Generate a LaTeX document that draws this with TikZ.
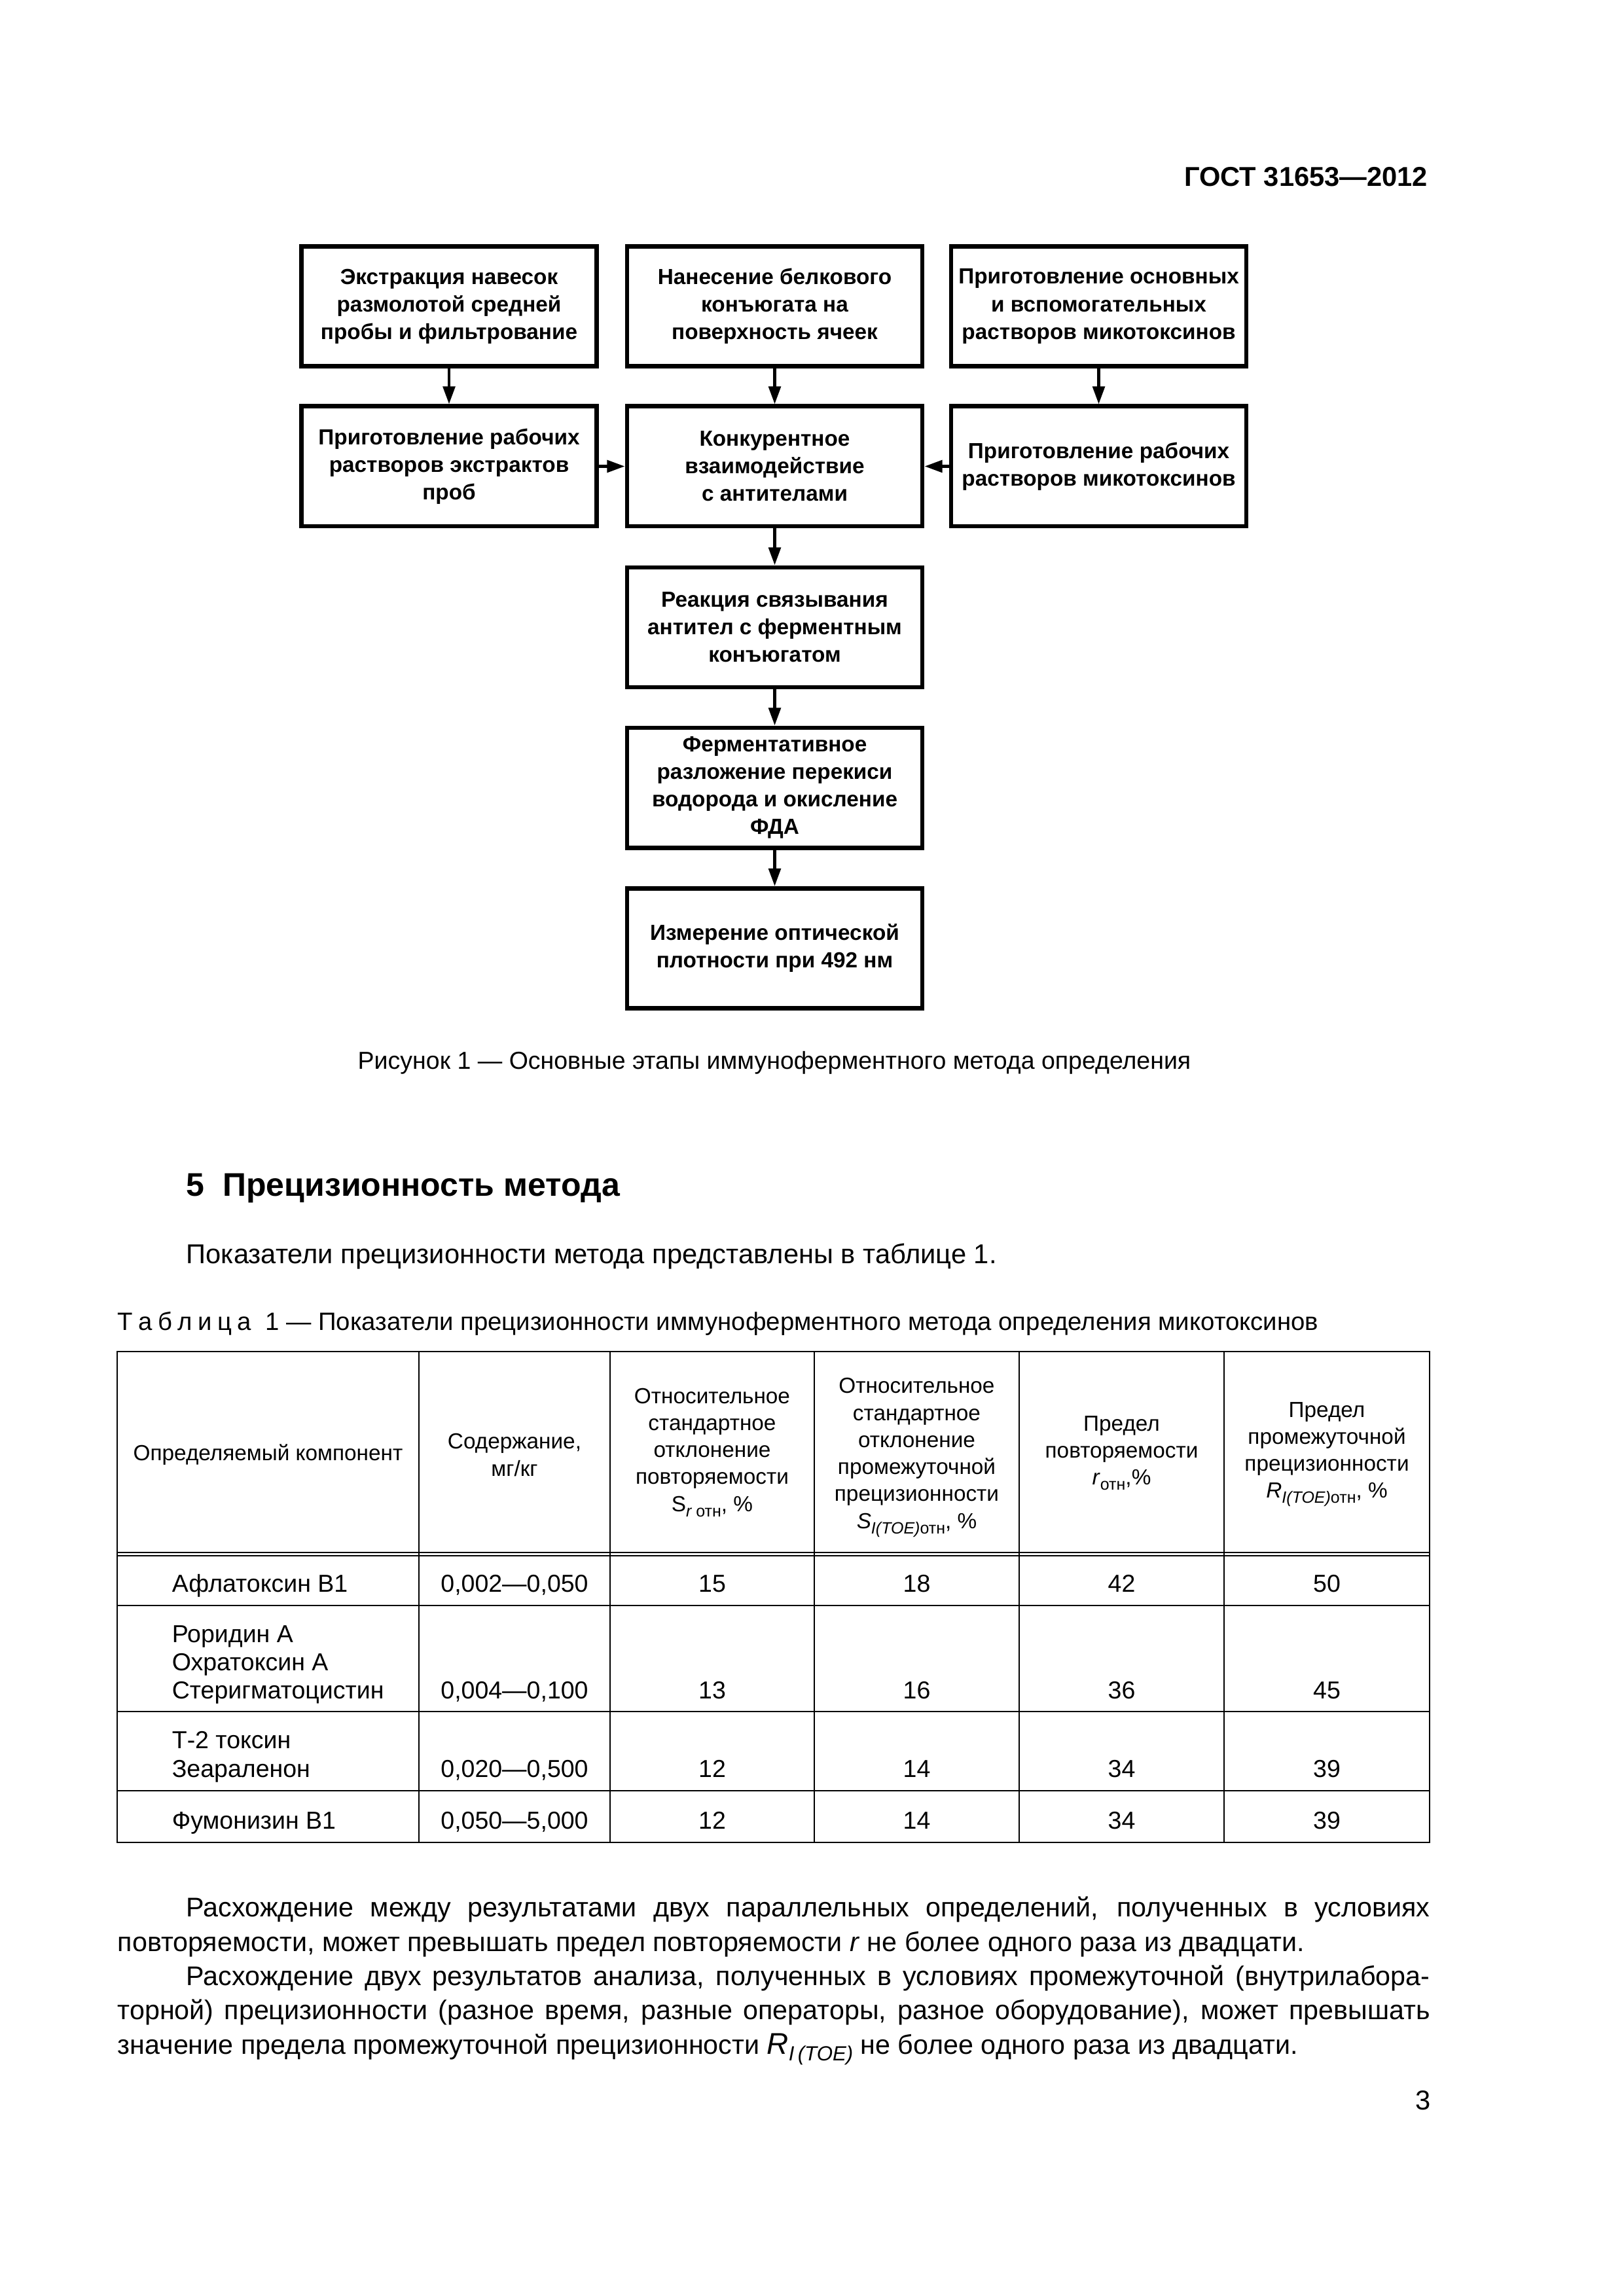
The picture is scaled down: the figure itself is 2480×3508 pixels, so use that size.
\documentclass[tikz,border=0pt]{standalone}
\usepackage{fontspec}
\setmainfont{Liberation Sans}
\usetikzlibrary{arrows.meta}
\newcommand\lsub[1]{\raisebox{-0.45ex}{\fontsize{6}{6}\selectfont #1}}
\newcommand\bsub[1]{\raisebox{-0.5ex}{\fontsize{7.5}{7.5}\selectfont #1}}
\newcommand\lsp{\hspace{0.22em}}
\begin{document}
\begin{tikzpicture}[x=0.24pt,y=-0.24pt]
\tikzset{
  fbox/.style={draw, line width=1.6pt, minimum width=108.3pt, minimum height=44pt,
    inner sep=0pt, align=center, font=\fontsize{8}{10.1}\selectfont\bfseries},
  farrow/.style={line width=1.1pt, -{Triangle[length=6.5pt,width=4.4pt]}},
  tline/.style={line width=0.5pt},
  th/.style={align=center, inner sep=0pt, font=\fontsize{8}{9.9}\selectfont},
  td/.style={inner sep=0pt, font=\fontsize{9}{10.3}\selectfont},
  body/.style={inner sep=0pt, font=\fontsize{10}{12.5}\selectfont},
  para/.style={inner sep=0pt, font=\fontsize{9.9}{12.5}\selectfont},
}
\useasboundingbox[fill=white] (0,0) rectangle (2480,3508);

% header
\node[anchor=base east, inner sep=0pt, font=\fontsize{10}{12}\selectfont\bfseries] (gost) at (2182,285) {ГОСТ 31653—2012};

% flowchart
\node[fbox] (b1) at (686,468) {Экстракция навесок\\размолотой средней\\пробы и фильтрование};
\node[fbox] (b2) at (1183.5,468) {Нанесение белкового\\конъюгата на\\поверхность ячеек};
\node[fbox] (b3) at (1678.5,468) {Приготовление основных\\и вспомогательных\\растворов микотоксинов};
\node[fbox] (b4) at (686,712.5) {Приготовление рабочих\\растворов экстрактов\\проб};
\node[fbox] (b5) at (1183.5,712.5) {Конкурентное\\взаимодействие\\с антителами};
\node[fbox] (b6) at (1678.5,712.5) {Приготовление рабочих\\растворов микотоксинов};
\node[fbox] (b7) at (1183.5,958.5) {Реакция связывания\\антител с ферментным\\конъюгатом};
\node[fbox] (b8) at (1183.5,1203.5) {Ферментативное\\разложение перекиси\\водорода и окисление\\ФДА};
\node[fbox] (b9) at (1183.5,1449) {Измерение оптической\\плотности при 492 нм};

\draw[farrow] (b1) -- (b4);
\draw[farrow] (b2) -- (b5);
\draw[farrow] (b3) -- (b6);
\draw[farrow] (b4) -- (b5);
\draw[farrow] (b6) -- (b5);
\draw[farrow] (b5) -- (b7);
\draw[farrow] (b7) -- (b8);
\draw[farrow] (b8) -- (b9);

\node[anchor=base, inner sep=0pt, font=\fontsize{9}{11}\selectfont] (cap) at (1183,1633) {Рисунок 1 — Основные этапы иммуноферментного метода определения};

% section
\node[anchor=base west, inner sep=0pt, font=\fontsize{12}{14}\selectfont\bfseries] (sec) at (284,1827) {5\ \ Прецизионность метода};
\node[body, anchor=base west] (intro) at (284,1930) {Показатели прецизионности метода представлены в таблице 1.};
\node[anchor=base west, inner sep=0pt, font=\fontsize{9.2}{11}\selectfont] (tcap) at (179,2032) {Т\lsp а\lsp б\lsp л\lsp и\lsp ц\lsp а\ \ 1 — Показатели прецизионности иммуноферментного метода определения микотоксинов};

% table grid
\draw[tline] (179,2065) rectangle (2184,2815);
\foreach \cx in {640,932,1244,1557,1870} \draw[tline] (\cx,2065) -- (\cx,2815);
\foreach \ry in {2372,2377,2453,2615,2736} \draw[tline] (179,\ry) -- (2184,\ry);

% table header
\node[th] (h1) at (409.5,2223) {Определяемый компонент};
\node[th] (h2) at (786,2223) {Содержание,\\мг/кг};
\node[th] (h3) at (1088,2219) {Относительное\\стандартное\\отклонение\\повторяемости\\S\lsub{\itshape r\upshape\ отн}, \%};
\node[th] (h4) at (1400.5,2227) {Относительное\\стандартное\\отклонение\\промежуточной\\прецизионности\\\textit{S}\lsub{\itshape I(TOE)\upshape отн}, \%};
\node[th] (h5) at (1713.5,2220) {Предел\\повторяемости\\\textit{r}\lsub{отн},\%};
\node[th] (h6) at (2027,2222) {Предел\\промежуточной\\прецизионности\\\textit{R}\lsub{\itshape I(TOE)\upshape отн}, \%};

% table body
\node[td, anchor=base west] (r1a) at (262,2432) {Афлатоксин В1};
\node[td, anchor=base] (r1b) at (786,2432) {0,002—0,050};
\node[td, anchor=base] (r1c) at (1088,2432) {15};
\node[td, anchor=base] (r1d) at (1400.5,2432) {18};
\node[td, anchor=base] (r1e) at (1713.5,2432) {42};
\node[td, anchor=base] (r1f) at (2027,2432) {50};

\node[td, anchor=base west] (r2a1) at (262,2509) {Роридин А};
\node[td, anchor=base west] (r2a2) at (262,2552) {Охратоксин А};
\node[td, anchor=base west] (r2a3) at (262,2595) {Стеригматоцистин};
\node[td, anchor=base] (r2b) at (786,2595) {0,004—0,100};
\node[td, anchor=base] (r2c) at (1088,2595) {13};
\node[td, anchor=base] (r2d) at (1400.5,2595) {16};
\node[td, anchor=base] (r2e) at (1713.5,2595) {36};
\node[td, anchor=base] (r2f) at (2027,2595) {45};

\node[td, anchor=base west] (r3a1) at (262,2671) {Т-2 токсин};
\node[td, anchor=base west] (r3a2) at (262,2715) {Зеараленон};
\node[td, anchor=base] (r3b) at (786,2715) {0,020—0,500};
\node[td, anchor=base] (r3c) at (1088,2715) {12};
\node[td, anchor=base] (r3d) at (1400.5,2715) {14};
\node[td, anchor=base] (r3e) at (1713.5,2715) {34};
\node[td, anchor=base] (r3f) at (2027,2715) {39};

\node[td, anchor=base west] (r4a) at (262,2794) {Фумонизин В1};
\node[td, anchor=base] (r4b) at (786,2794) {0,050—5,000};
\node[td, anchor=base] (r4c) at (1088,2794) {12};
\node[td, anchor=base] (r4d) at (1400.5,2794) {14};
\node[td, anchor=base] (r4e) at (1713.5,2794) {34};
\node[td, anchor=base] (r4f) at (2027,2794) {39};

% paragraphs
\node[para, anchor=base west] (p1a) at (284,2928) {\makebox[456pt][s]{Расхождение между результатами двух параллельных определений, полученных в условиях}};
\node[para, anchor=base west] (p1b) at (179,2981) {повторяемости, может превышать предел повторяемости \textit{r} не более одного раза из двадцати.};
\node[para, anchor=base west] (p2a) at (284,3033) {\makebox[456pt][s]{Расхождение двух результатов анализа, полученных в условиях промежуточной (внутрилабора-}};
\node[para, anchor=base west] (p2b) at (179,3085) {\makebox[481.2pt][s]{торной) прецизионности (разное время, разные операторы, разное оборудование), может превышать}};
\node[para, anchor=base west] (p2c) at (179,3138) {значение предела промежуточной прецизионности {\fontsize{11}{12}\selectfont\itshape R}\bsub{\itshape I\,(TOE)} не более одного раза из двадцати.};

\node[body, anchor=base east] (pnum) at (2186,3223) {3};
\end{tikzpicture}
\end{document}
